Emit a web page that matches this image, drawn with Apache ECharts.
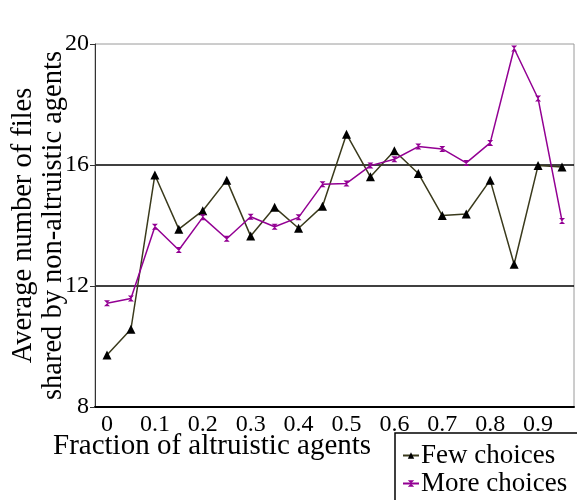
<!DOCTYPE html>
<html>
<head>
<meta charset="utf-8">
<script src="https://cdn.jsdelivr.net/npm/echarts@6/dist/echarts.min.js"></script>
<style>
  html, body { margin: 0; padding: 0; background: #fff; }
  #main { width: 577px; height: 500px; }
</style>
</head>
<body>
<div id="main"></div>
<script>
// fraction of altruistic agents, one category per 0.05
const fractions = ['0', '0.05', '0.1', '0.15', '0.2', '0.25', '0.3', '0.35', '0.4', '0.45',
                   '0.5', '0.55', '0.6', '0.65', '0.7', '0.75', '0.8', '0.85', '0.9', '0.95']
const fewChoices = [9.72, 10.57, 15.67, 13.88, 14.49, 15.5, 13.65, 14.6, 13.91, 14.64,
                    17.02, 15.61, 16.47, 15.72, 14.33, 14.38, 15.5, 12.72, 15.98, 15.93]
const moreChoices = [11.43, 11.59, 13.96, 13.19, 14.27, 13.56, 14.29, 13.96, 14.27, 15.36,
                     15.39, 15.98, 16.19, 16.61, 16.53, 16.07, 16.73, 19.85, 18.2, 14.15]
const yTicks = [8, 12, 16, 20]

const serif = '"Liberation Serif", "DejaVu Serif", serif'
const hourglass = 'path://M0,0 L10,0 L0,10 L10,10 Z'

const chart = echarts.init(document.getElementById('main'))

chart.setOption({
    animation: false,
    textStyle: { fontFamily: serif, color: '#000' },
    title: {
        text: 'Fraction of altruistic agents',
        left: 53,
        top: 432,
        padding: 0,
        textStyle: { fontFamily: serif, fontSize: 29, fontWeight: 'normal', color: '#000' }
    },
    legend: {
        orient: 'vertical',
        left: 395,
        top: 433,
        height: 120,
        padding: [9, 40, 20, 7],
        itemGap: 1,
        itemWidth: 16,
        itemHeight: 8,
        borderColor: '#000',
        borderWidth: 1.5,
        textStyle: { fontFamily: serif, fontSize: 27, color: '#000', padding: [0, 0, 0, -3] },
        data: ['Few choices', 'More choices']
    },
    grid: {
        left: 95,
        right: 3,
        top: 44,
        bottom: 93,
        outerBoundsMode: 'none',
        show: true,
        borderColor: '#9a9a9a',
        borderWidth: 1
    },
    xAxis: {
        type: 'category',
        data: fractions,
        boundaryGap: true,
        axisLine: { lineStyle: { color: '#000', width: 2 } },
        axisTick: { interval: 0, length: 5, lineStyle: { color: '#000' } },
        axisLabel: {
            interval: 1,
            margin: 6,
            fontFamily: serif,
            fontSize: 24,
            color: '#000'
        },
        splitLine: { show: false }
    },
    yAxis: {
        type: 'value',
        min: yTicks[0],
        max: yTicks[yTicks.length - 1],
        interval: 4,
        name: 'Average number of files\nshared by non-altruistic agents',
        nameLocation: 'middle',
        nameRotate: 90,
        nameGap: 26,
        nameMoveOverlap: false,
        nameTextStyle: { fontFamily: serif, fontSize: 28.5, color: '#000', lineHeight: 30 },
        axisLine: { show: true, lineStyle: { color: '#333', width: 1 } },
        axisTick: { show: true, length: 5, lineStyle: { color: '#333' } },
        axisLabel: { margin: 6, fontFamily: serif, fontSize: 24, color: '#000' },
        splitLine: {
            show: true,
            showMinLine: false,
            showMaxLine: false,
            lineStyle: { color: '#000', width: 1.5 }
        }
    },
    series: [
        {
            name: 'Few choices',
            type: 'line',
            data: fewChoices,
            symbol: 'triangle',
            symbolSize: 9,
            itemStyle: { color: '#000' },
            lineStyle: { color: '#3a3a1c', width: 1.5 }
        },
        {
            name: 'More choices',
            type: 'line',
            data: moreChoices,
            symbol: hourglass,
            symbolSize: 6,
            itemStyle: { color: '#930093' },
            lineStyle: { color: '#930093', width: 1.5 }
        }
    ]
})
</script>
</body>
</html>
